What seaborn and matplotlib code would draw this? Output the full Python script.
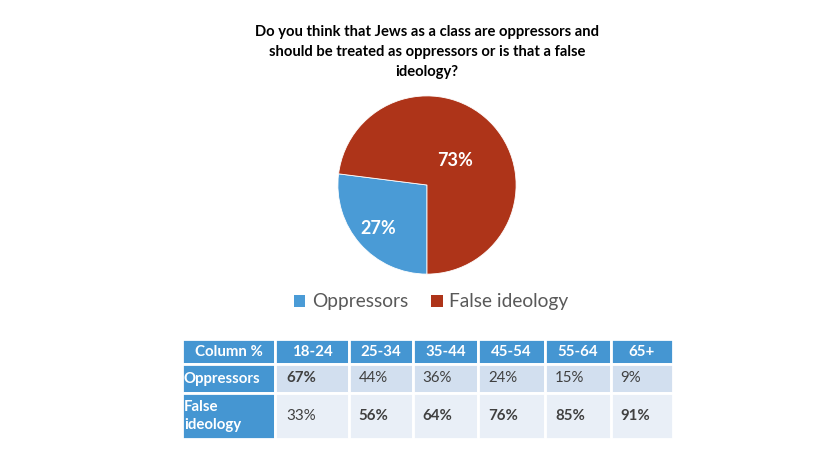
import numpy as np
import pandas as pd
import matplotlib
matplotlib.use("Agg")
import matplotlib.pyplot as plt
from matplotlib.patches import Patch
import seaborn as sns

# ============================
# Data
# ============================
title = ("Do you think that Jews as a class are oppressors and\n"
         "should be treated as oppressors or is that a false\nideology?")
answers = ["Oppressors", "False ideology"]
overall = [27, 73]

age_groups = ["18-24", "25-34", "35-44", "45-54", "55-64", "65+"]
oppressors_by_age = [67, 44, 36, 24, 15, 9]
false_by_age = [33, 56, 64, 76, 85, 91]
# which cells are printed in bold in the source table
oppressors_bold = [True, False, False, False, False, False]
false_bold = [False, True, True, True, True, True]

# ============================
# Style
# ============================
sns.set_theme(style="white")
plt.rcParams["font.family"] = ["Lato", "DejaVu Sans"]

colors = sns.color_palette(["#4A9BD6", "#AE3419"])
header_blue = "#4596D2"
row_light = "#D2DFEF"
row_lighter = "#E9EFF7"
text_gray = "#404040"

fig = plt.figure(figsize=(8.17, 4.55), dpi=100)
W, H = 817, 455


def fig_box(x0, y0, x1, y1):
    return [x0 / W, 1 - y1 / H, (x1 - x0) / W, (y1 - y0) / H]


# ============================
# Title
# ============================
fig.text(427 / W, 1 - 25 / H, title, ha="center", va="top", fontsize=10.6,
         fontweight="bold", color="black", linespacing=1.55)

# ============================
# Pie
# ============================
ax = fig.add_axes(fig_box(337, 95, 517, 275))
wedges, _, autotexts = ax.pie(
    overall, colors=colors, startangle=270, counterclock=False,
    autopct=lambda p: f"{p:.0f}%", pctdistance=0.6,
    wedgeprops=dict(linewidth=0.6, edgecolor="white"),
    textprops=dict(color="white", fontsize=13, fontweight="bold"))
label_dist = [0.73, 0.42]
for w, t, d in zip(wedges, autotexts, label_dist):
    ang = np.deg2rad((w.theta1 + w.theta2) / 2)
    t.set_position((d * np.cos(ang), d * np.sin(ang)))
ax.set_xlim(-1.01, 1.01)
ax.set_ylim(-1.01, 1.01)
ax.axis("off")

handles = [Patch(facecolor=c, edgecolor="none") for c in colors]
fig.legend(handles, answers, loc="center", bbox_to_anchor=(431 / W, 1 - 302 / H),
           ncol=2, frameon=False, fontsize=13.8, handlelength=0.6, handleheight=0.6,
           handletextpad=0.35, columnspacing=1.2, labelcolor="#595959")

# ============================
# Table
# ============================
table_df = pd.DataFrame([oppressors_by_age, false_by_age],
                        index=["Oppressors", "False\nideology"], columns=age_groups)
bold_df = pd.DataFrame([oppressors_bold, false_bold], columns=age_groups)

tax = fig.add_axes(fig_box(182, 339, 673, 439))
tax.axis("off")
cell_text = [["Column %"] + age_groups]
for name, row in table_df.iterrows():
    cell_text.append([name] + [f"{v}%" for v in row])

col_px = [93, 74, 64, 65, 67, 66, 62]
row_px = [25, 29, 46]
tbl = tax.table(cellText=cell_text, bbox=[0, 0, 1, 1],
                colWidths=[c / sum(col_px) for c in col_px])
tbl.auto_set_font_size(False)
for (r, c), cell in tbl.get_celld().items():
    cell.set_height(row_px[r] / sum(row_px))
    cell.set_edgecolor("white")
    cell.set_linewidth(2)
    txt = cell.get_text()
    txt.set_fontsize(10.8)
    if r == 0 or c == 0:
        cell.set_facecolor(header_blue)
        txt.set_color("white")
        txt.set_fontweight("bold")
        txt.set_linespacing(1.35)
        if r == 0:
            cell._loc = "center"
            txt.set_ha("center")
        else:
            cell._loc = "left"
            txt.set_ha("left")
            cell.PAD = 0.02
    else:
        cell.set_facecolor(row_light if r == 1 else row_lighter)
        txt.set_color(text_gray)
        cell._loc = "left"
        txt.set_ha("left")
        cell.PAD = 0.15
        if bold_df.iloc[r - 1, c - 1]:
            txt.set_fontweight("bold")

fig.savefig("out.png", dpi=100, facecolor="white")
